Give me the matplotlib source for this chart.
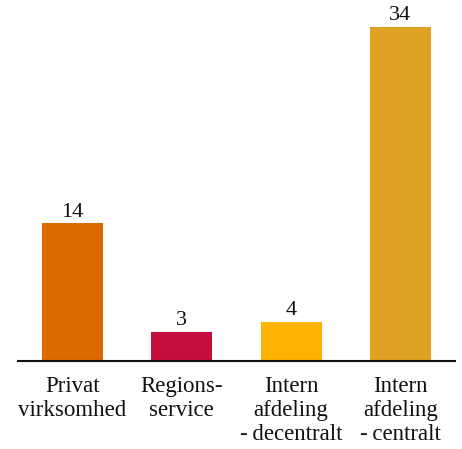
import matplotlib.pyplot as plt

categories = ["Privat\nvirksomhed", "Regions-\nservice",
              "Intern\nafdeling\n-\u2009decentralt", "Intern\nafdeling\n-\u2009centralt"]
values = [14, 3, 4, 34]
colors = ["#DB6A00", "#C40F3E", "#FDB300", "#E0A222"]

plt.rcParams["font.family"] = ["Liberation Serif", "DejaVu Serif"]

fig = plt.figure(figsize=(4.62, 4.49), dpi=100)
ax = fig.add_axes([18 / 462, 88 / 449, 437 / 462, 351 / 449])

x = range(len(values))
bars = ax.bar(x, values, width=0.56, color=colors)
ax.bar_label(bars, labels=[str(v) for v in values], padding=1,
             fontsize=16, color="#111111")

ax.set_xlim(-0.5, len(values) - 0.5)
ax.set_ylim(0, 351 / 9.83)
ax.set_xticks(list(x))
ax.set_xticklabels(categories, fontsize=16.5, linespacing=1.17, color="#111111")
ax.tick_params(axis="x", length=0, pad=11)
ax.set_yticks([])

for side in ["top", "left", "right"]:
    ax.spines[side].set_visible(False)
ax.spines["bottom"].set_linewidth(1.5)
ax.spines["bottom"].set_color("#111111")

fig.savefig("out.png", dpi=100)
